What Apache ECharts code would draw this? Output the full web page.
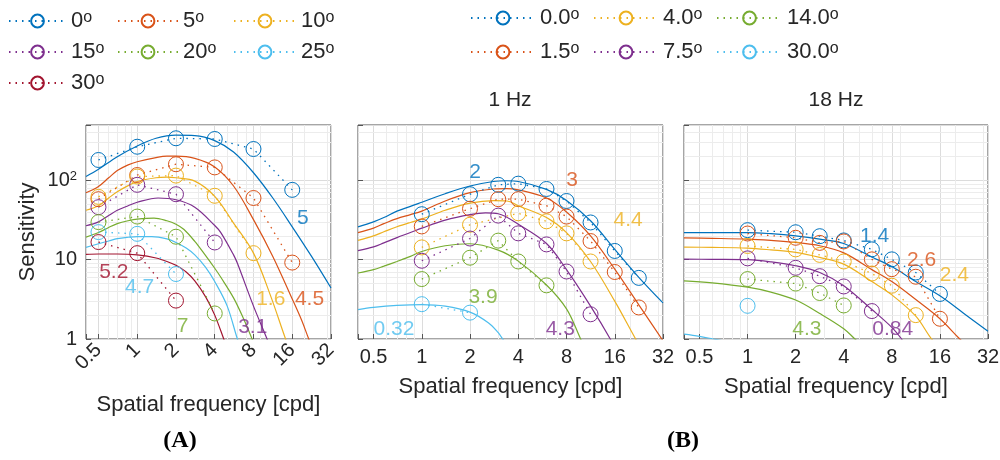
<!DOCTYPE html>
<html>
<head>
<meta charset="utf-8">
<script src="https://cdn.jsdelivr.net/npm/echarts@6/dist/echarts.min.js"></script>
<style>
  html, body { margin: 0; background: #fff; }
  #chart { width: 1000px; height: 460px; }
</style>
</head>
<body>
<div id="chart"></div>
<script>
// MATLAB default colour order
const palette = ['#0072BD', '#D95319', '#EDB120', '#7E2F8E', '#77AC30', '#4DBEEE', '#A2142F'];
const font = 'Liberation Sans, Arial, Helvetica, sans-serif';
const ink = '#262626';

// axis ticks
const xTicks = [0.5, 1, 2, 4, 8, 16, 32];
const yTicks = [1, 10, 100];
const xMinor = [0.6, 0.7, 0.8, 0.9, 3, 5, 6, 7, 9, 20, 30];
const yMinor = [2, 3, 4, 5, 6, 7, 8, 9, 20, 30, 40, 50, 60, 70, 80, 90, 200, 300, 400];

// ---- (A) eccentricity, measured points ----
const eccA = ['0', '5', '10', '15', '20', '25', '30'];
const freqA = [0.5, 1, 2, 4, 8, 16];
const sensA = [
  [181, 266, 340, 333, 249, 76],
  [58, 117, 160, 146, 60, 9.2],
  [62, 112, 115, 64, 12.1],
  [46, 88, 67, 16.5],
  [29.8, 35, 19.5, 2.1],
  [22.3, 21.2, 6.6],
  [16.7, 12.1, 3.05]
];
// (A) model fits
const fitA = [
  [[0.4, 112], [0.5, 138], [0.7, 199], [1, 272], [1.4, 340], [2, 372], [2.8, 368], [4, 318], [5.6, 228], [8, 125], [11.3, 60], [16, 26], [22.6, 11], [32, 4.4]],
  [[0.4, 70], [0.5, 84], [0.6, 108], [0.7, 133], [0.85, 157], [1, 172], [1.4, 194], [1.7, 202], [2, 202], [2.8, 190], [4, 148], [5.6, 85], [8, 32], [11.3, 11], [16, 3.2], [19, 1.7], [21.5, 1], [25, 0.55]],
  [[0.4, 42], [0.5, 48], [0.6, 60], [0.7, 72], [0.85, 86], [1, 97], [1.4, 108], [1.7, 110], [2, 108], [2.8, 98], [4, 63], [5.6, 29], [8, 12.1], [10.9, 3.45], [14.2, 1], [16, 0.62]],
  [[0.4, 26.8], [0.5, 30], [0.6, 36], [0.7, 42], [0.85, 48], [1, 53], [1.45, 60], [2, 57], [2.8, 46], [4, 27], [4.46, 22], [5.6, 11.5], [6, 9], [8, 2.6], [10.2, 1], [12, 0.5]],
  [[0.4, 19.3], [0.5, 22], [0.6, 25.5], [0.7, 28.5], [0.85, 31], [1, 32.5], [1.35, 33.5], [1.7, 31], [2, 28], [2.31, 24], [2.8, 17], [3.3, 12], [4, 7.8], [4.46, 6], [5.6, 3.3], [6.7, 1.8], [7.8, 1], [9, 0.55]],
  [[0.4, 14.3], [0.5, 15.9], [0.6, 17.2], [0.7, 18.4], [0.85, 19.2], [1, 19.6], [1.3, 19.6], [1.7, 18.3], [2, 16.5], [2.4, 14], [2.8, 11.5], [3.4, 8], [4, 5.3], [5, 2.6], [6, 1], [7, 0.5]],
  [[0.4, 11.7], [0.5, 11.8], [0.7, 11.8], [1, 11.5], [1.4, 10.5], [1.82, 9.1], [2, 8.5], [2.4, 7], [2.8, 5.4], [3.4, 3.4], [4, 2], [4.7, 1], [5.5, 0.5]]
];
const notesA = ['5', '4.5', '1.6', '3.1', '7', '4.7', '5.2'];
const notesAAt = [[19.3, 33.7], [21.8, 3.14], [10.9, 3.14], [7.9, 1.4], [2.25, 1.44], [1.045, 4.44], [0.657, 6.9]];

// ---- (B) eccentricity x temporal frequency ----
const eccB = ['0.0', '1.5', '4.0', '7.5', '14.0', '30.0'];
const sensB1 = [
  [[1, 37.5], [2, 67], [3, 88], [4, 91], [6, 78], [8, 55], [11.3, 29.5], [16, 12.9], [22.6, 5.9]],
  [[1, 26.3], [2, 44], [3, 58], [4, 58], [6, 48], [8, 35], [11.3, 17.2], [16, 7], [22.6, 2.5]],
  [[1, 14.3], [2, 27.6], [4, 38.5], [6, 30.5], [8, 21.5], [11.3, 9.5]],
  [[1, 9.7], [2, 18.5], [3, 36], [4, 21.5], [6, 15.6], [8, 7.1], [11.3, 2.05]],
  [[1, 5.7], [2, 10.6], [3, 17.4], [4, 9.5], [6, 4.75]],
  [[1, 2.75], [2, 2.15]]
];
const fitB1 = [
  [[0.4, 26], [0.5, 30], [0.58, 34], [0.7, 41], [0.85, 47], [1, 53], [1.4, 68], [2, 85], [2.8, 97], [3.4, 99], [4, 97], [6, 77], [8, 56], [11.3, 31], [16, 13.5], [22.6, 6], [32, 2.85]],
  [[0.4, 22], [0.5, 25], [0.58, 28.5], [0.7, 33], [0.85, 37], [1, 41], [1.4, 55], [2, 70], [2.8, 78], [3.4, 79], [4, 76], [6, 60], [8, 40], [11.3, 20], [16, 7.6], [22.6, 2.7], [32, 0.95]],
  [[0.4, 17.5], [0.5, 20], [0.58, 22.5], [0.7, 26], [0.85, 29.5], [1, 32.5], [1.4, 42], [2, 51.6], [2.8, 55.5], [3.4, 55], [4, 48], [6, 34], [8, 22], [11.3, 9.5], [16, 3], [21.6, 1], [24, 0.7]],
  [[0.4, 13], [0.5, 14.5], [0.58, 16.3], [0.7, 19], [0.85, 22], [1, 25], [1.4, 31.5], [2, 37], [2.5, 39], [3, 38], [4, 28], [6, 16], [8, 7.5], [11.3, 2.6], [15, 1], [17, 0.6]],
  [[0.4, 6.8], [0.5, 7.5], [0.58, 8.3], [0.7, 9.5], [0.85, 11], [1, 12.7], [1.4, 15], [2, 15.9], [3, 13.2], [4, 9.6], [6, 4.8], [8, 2.4], [9.8, 1], [11.5, 0.5]],
  [[0.4, 2.35], [0.5, 2.5], [0.7, 2.65], [1, 2.72], [1.4, 2.6], [2, 2.18], [2.6, 1.6], [3, 1.2], [3.2, 1], [3.6, 0.75]]
];
const notesB1 = ['2', '3', '4.4', '4.3', '3.9', '0.32'];
const notesB1At = [[2.15, 128], [8.68, 101], [19.4, 31.9], [7.31, 1.32], [2.41, 3.33], [0.671, 1.32]];

const sensB2 = [
  [[1, 23.6], [2, 22.2], [2.83, 19.8], [4, 17.5], [6, 13.5], [8, 10.1], [11.3, 6.9], [16, 3.7]],
  [[1, 21.4], [2, 18.9], [2.83, 16.3], [4, 17], [6, 10.1], [8, 7.6], [11.3, 6.1], [16, 1.8]],
  [[1, 14.9], [2, 13.5], [2.83, 11.5], [4, 9.5], [6, 6.7], [8, 4.7], [11.3, 2.0]],
  [[1, 10.4], [2, 7.9], [2.83, 6.2], [4, 4.6], [6, 2.25]],
  [[1, 5.7], [2, 5.0], [2.83, 3.8], [4, 2.65]],
  [[1, 2.62]]
];
const fitB2 = [
  [[0.4, 22], [0.6, 22], [1, 22], [1.4, 21.3], [2, 20], [2.83, 18.2], [4, 16], [6, 10.8], [8, 8.2], [11.3, 5.3], [16, 3.5], [22.6, 2.1], [32, 1.25]],
  [[0.4, 18.8], [0.6, 18.6], [1, 18.2], [1.4, 17.5], [2, 16.5], [2.83, 15], [4, 12.2], [6, 7.5], [8, 5.3], [11.3, 3.14], [16, 1.8], [21, 1.03], [24, 0.8]],
  [[0.4, 14.4], [0.6, 14.3], [1, 14], [1.4, 13.3], [2, 12.4], [2.83, 10.7], [4, 8.8], [6, 5.3], [8, 3.6], [11.3, 1.94], [13.8, 1.08], [16, 0.75]],
  [[0.4, 10.2], [0.6, 10.1], [1, 10], [1.4, 9.4], [2, 8.4], [2.83, 6.9], [4, 4.7], [6, 2.35], [8, 1.4], [9.2, 1], [11, 0.6]],
  [[0.4, 5.4], [0.6, 5.1], [1, 4.5], [1.4, 3.9], [2, 3.1], [2.83, 2.1], [4, 1.35], [4.7, 1], [5.5, 0.75]],
  [[0.4, 1.15], [0.5, 1.08], [0.61, 1], [0.7, 0.95]]
];
const notesB2 = ['1.4', '2.6', '2.4', '0.84', '4.3', ''];
const notesB2At = [[6.24, 20], [12.3, 10], [19.7, 6.3], [8.1, 1.32], [2.35, 1.32], [1, 1]];

// ---- builders ----
const isTick = (list, v) => list.some(t => Math.abs(t - v) / t < 1e-6);

function xAxis(idx, rotate, nameGap) {
  return {
    type: 'log', logBase: 2, min: 0.4, max: 32, gridIndex: idx,
    name: 'Spatial frequency [cpd]', nameLocation: 'middle', nameGap,
    nameTextStyle: { fontSize: 22, color: ink, fontFamily: font },
    axisLine: { show: false },
    axisTick: { inside: true, length: 5, lineStyle: { color: '#555' } },
    axisLabel: {
      rotate, margin: 8, fontSize: 20, color: ink, fontFamily: font,
      formatter: v => isTick(xTicks, v) ? String(+(+v).toPrecision(3)) : ''
    },
    splitLine: { show: true, lineStyle: { color: '#dcdcdc', width: 1 } }
  };
}

function yAxis(idx, withLabels) {
  return {
    type: 'log', logBase: 10, min: 1, max: 500, gridIndex: idx,
    name: withLabels ? 'Sensitivity' : '', nameLocation: 'middle', nameGap: 47,
    nameTextStyle: { fontSize: 22, color: ink, fontFamily: font },
    axisLine: { show: false },
    axisTick: { inside: true, length: 5, lineStyle: { color: '#555' } },
    axisLabel: {
      show: withLabels, margin: 9, fontSize: 20, color: ink, fontFamily: font,
      formatter: v => {
        if (!isTick(yTicks, v)) return '';
        return Math.abs(v - 100) < 1e-6 ? '{b|10}{sup|2}' : String(Math.round(v));
      },
      rich: {
        b: { fontSize: 20, color: ink, fontFamily: font },
        sup: { fontSize: 13, color: ink, fontFamily: font, verticalAlign: 'top' }
      }
    },
    splitLine: { show: true, lineStyle: { color: '#dcdcdc', width: 1 } }
  };
}

function minorGrid(idx) {
  return {
    type: 'line', xAxisIndex: idx, yAxisIndex: idx, data: [], silent: true,
    markLine: {
      silent: true, symbol: 'none', z: 1, animation: false,
      label: { show: false },
      lineStyle: { color: '#ececec', width: 1, type: 'solid' },
      emphasis: { disabled: true },
      data: yMinor.map(v => ({ yAxis: v })).concat(xMinor.map(v => ({ xAxis: v })))
    }
  };
}

function dataSeries(name, pts, color, idx) {
  return {
    name, type: 'line', xAxisIndex: idx, yAxisIndex: idx, data: pts,
    symbol: 'circle', symbolSize: 15, silent: true, z: 3,
    itemStyle: { color: 'rgba(255,255,255,0)', borderColor: color, borderWidth: 1 },
    lineStyle: { color, width: 1.3, type: [1.5, 5] }
  };
}

function fitSeries(pts, color, idx) {
  return {
    type: 'line', xAxisIndex: idx, yAxisIndex: idx, data: pts,
    showSymbol: false, symbol: 'none', smooth: 0.35, silent: true, z: 2,
    lineStyle: { color, width: 1.2 }
  };
}

function noteSeries(texts, at, idx) {
  return {
    type: 'scatter', xAxisIndex: idx, yAxisIndex: idx, symbolSize: 1, silent: true, z: 4,
    itemStyle: { color: 'rgba(0,0,0,0)' },
    label: { show: true, position: 'inside', formatter: p => p.name, fontSize: 21, fontFamily: font },
    data: texts.map((t, i) => t ? { name: t, value: at[i], label: { color: palette[i] } } : null).filter(Boolean)
  };
}

const series = [minorGrid(0), minorGrid(1), minorGrid(2)];
fitA.forEach((f, i) => series.push(fitSeries(f, palette[i], 0)));
eccA.forEach((e, i) => series.push(dataSeries(e, sensA[i].map((v, j) => [freqA[j], v]), palette[i], 0)));
series.push(noteSeries(notesA, notesAAt, 0));
fitB1.forEach((f, i) => series.push(fitSeries(f, palette[i], 1)));
eccB.forEach((e, i) => series.push(dataSeries(e, sensB1[i], palette[i], 1)));
series.push(noteSeries(notesB1, notesB1At, 1));
fitB2.forEach((f, i) => series.push(fitSeries(f, palette[i], 2)));
eccB.forEach((e, i) => series.push(dataSeries(e, sensB2[i], palette[i], 2)));
series.push(noteSeries(notesB2, notesB2At, 2));

function legendCol(names, left, top, gap, width) {
  return {
    data: names, left, top, orient: 'vertical', padding: 0, itemGap: gap,
    itemWidth: width, itemHeight: 16, selectedMode: false,
    formatter: n => '{n|' + n + '}{s|o}',
    textStyle: {
      color: ink, fontSize: 22, fontFamily: font,
      rich: {
        n: { fontSize: 22, color: ink, fontFamily: font },
        s: { fontSize: 16, color: ink, fontFamily: font, verticalAlign: 'top' }
      }
    }
  };
}

const gridBox = { show: true, borderColor: '#4d4d4d', borderWidth: 1, backgroundColor: 'transparent', containLabel: false, outerBoundsMode: 'none' };

const chart = echarts.init(document.getElementById('chart'), null, { renderer: 'canvas' });
chart.setOption({
  animation: false,
  backgroundColor: '#fff',
  grid: [
    Object.assign({ left: 86, top: 125, width: 245, height: 214 }, gridBox),
    Object.assign({ left: 358, top: 125, width: 305, height: 214 }, gridBox),
    Object.assign({ left: 684, top: 125, width: 304, height: 214 }, gridBox)
  ],
  xAxis: [xAxis(0, 45, 55), xAxis(1, 0, 37), xAxis(2, 0, 37)],
  yAxis: [yAxis(0, true), yAxis(1, false), yAxis(2, false)],
  legend: [
    legendCol(['0', '15', '30'], 8, 10, 9, 57),
    legendCol(['5', '20'], 117, 10, 9, 60),
    legendCol(['10', '25'], 233, 10, 9, 62),
    legendCol(['0.0', '1.5'], 470, 7, 12, 64),
    legendCol(['4.0', '7.5'], 593, 7, 12, 64),
    legendCol(['14.0', '30.0'], 716, 7, 12, 65)
  ],
  graphic: [
    { type: 'text', x: 510, y: 100, style: { text: '1 Hz', align: 'center', verticalAlign: 'middle', font: '21px ' + font, fill: ink } },
    { type: 'text', x: 836, y: 100, style: { text: '18 Hz', align: 'center', verticalAlign: 'middle', font: '21px ' + font, fill: ink } },
    { type: 'text', x: 180, y: 441, style: { text: '(A)', align: 'center', verticalAlign: 'middle', font: 'bold 24px "Liberation Serif", "Times New Roman", serif', fill: '#000' } },
    { type: 'text', x: 683, y: 441, style: { text: '(B)', align: 'center', verticalAlign: 'middle', font: 'bold 24px "Liberation Serif", "Times New Roman", serif', fill: '#000' } }
  ],
  series
});
</script>
</body>
</html>
